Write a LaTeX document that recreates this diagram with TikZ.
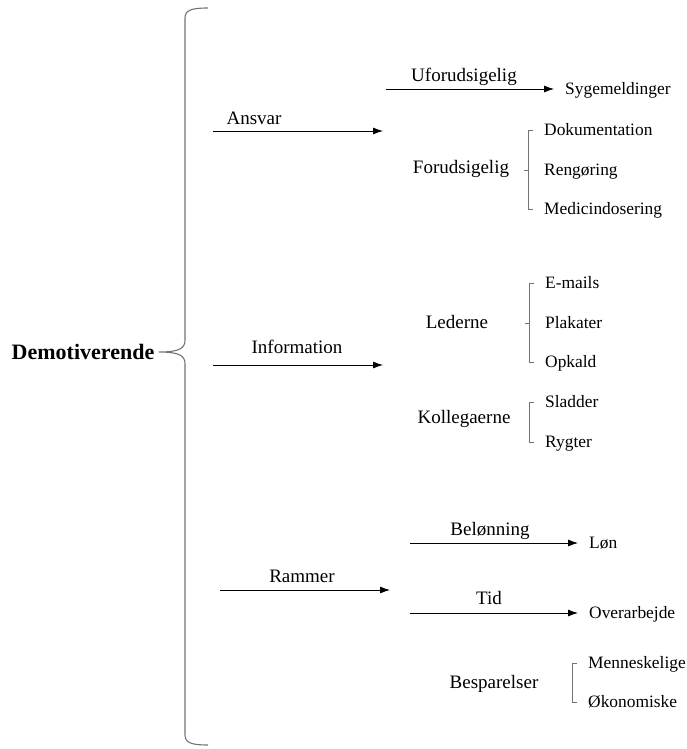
\documentclass[tikz,border=0pt]{standalone}
\usepackage{fontspec}
\setmainfont{Liberation Serif}
\usetikzlibrary{arrows.meta}
\begin{document}
\begin{tikzpicture}[x=1pt,y=-1pt,
	lbl/.style={font=\fontsize{19}{22}\selectfont,inner sep=0pt,text height=13pt,text depth=0pt},
	itm/.style={font=\fontsize{17.4}{20}\selectfont,inner sep=0pt,anchor=west,text height=11.5pt,text depth=0pt},
	arr/.style={line width=0.8pt,-{Latex[length=10pt,width=7pt]}},
	brk/.style={draw=black!55,line width=0.9pt}]
	\useasboundingbox (0,0) rectangle (687,749);
	\node[font=\fontsize{22}{26}\selectfont\bfseries,inner sep=0pt,text height=14.6pt,text depth=0pt] (root) at (83,352) {Demotiverende};
	\draw[brk,line width=1.1pt] (208,8) .. controls (192,8) and (185,10) .. (185,18) -- (185,340)
		.. controls (185,348) and (180,352) .. (159,352) .. controls (180,352) and (185,356) .. (185,364)
		-- (185,735) .. controls (185,743) and (192,745) .. (208,745);
	% main branches
	\coordinate (a0) at (213,131); \coordinate (a1) at (383,131);
	\coordinate (i0) at (213,365); \coordinate (i1) at (383,365);
	\coordinate (r0) at (220,590); \coordinate (r1) at (390,590);
	\draw[arr] (a0) -- (a1);
	\draw[arr] (i0) -- (i1);
	\draw[arr] (r0) -- (r1);
	\node[lbl] (ansvar) at (254,118) {Ansvar};
	\node[lbl] (info) at (297,347) {Information};
	\node[lbl] (rammer) at (302,576) {Rammer};
	% Ansvar
	\node[lbl] (ufor) at (464,75) {Uforudsigelig};
	\node[itm] (syg) at (565,89) {Sygemeldinger};
	\coordinate (u0) at (386,89);
	\draw[arr,shorten >=11pt] (u0) -- (syg.west);
	\node[lbl] (forud) at (461,167) {Forudsigelig};
	\node[itm] (dok) at (544,130) {Dokumentation};
	\node[itm] (ren) at (544,170) {Rengøring};
	\node[itm] (med) at (544,209) {Medicindosering};
	% Information
	\node[lbl] (led) at (457,322) {Lederne};
	\node[itm] (mail) at (545,283) {E-mails};
	\node[itm] (plak) at (545,323) {Plakater};
	\node[itm] (opk) at (545,362) {Opkald};
	\node[lbl] (koll) at (464,417) {Kollegaerne};
	\node[itm] (slad) at (545,402) {Sladder};
	\node[itm] (ryg) at (545,442) {Rygter};
	% Rammer
	\node[lbl] (bel) at (490,529) {Belønning};
	\node[itm] (lon) at (589,543) {Løn};
	\coordinate (b0) at (410,543);
	\draw[arr,shorten >=11pt] (b0) -- (lon.west);
	\node[lbl] (tid) at (489,598) {Tid};
	\node[itm] (over) at (589,613) {Overarbejde};
	\coordinate (t0) at (410,613);
	\draw[arr,shorten >=11pt] (t0) -- (over.west);
	\node[lbl] (besp) at (494,682) {Besparelser};
	\node[itm] (menn) at (588,663) {Menneskelige};
	\node[itm] (oko) at (588,702) {Økonomiske};
	% brackets
	\foreach \t/\b in {dok/med,mail/opk,slad/ryg,menn/oko}
		\draw[brk] ([xshift=-11pt]\t.west) -- ++(-5,0) -- ([xshift=-16pt]\b.west) -- ++(5,0);
	\foreach \m in {ren,plak}
		\draw[brk] ([xshift=-16pt]\m.west) -- ++(-4,0);
\end{tikzpicture}
\end{document}
